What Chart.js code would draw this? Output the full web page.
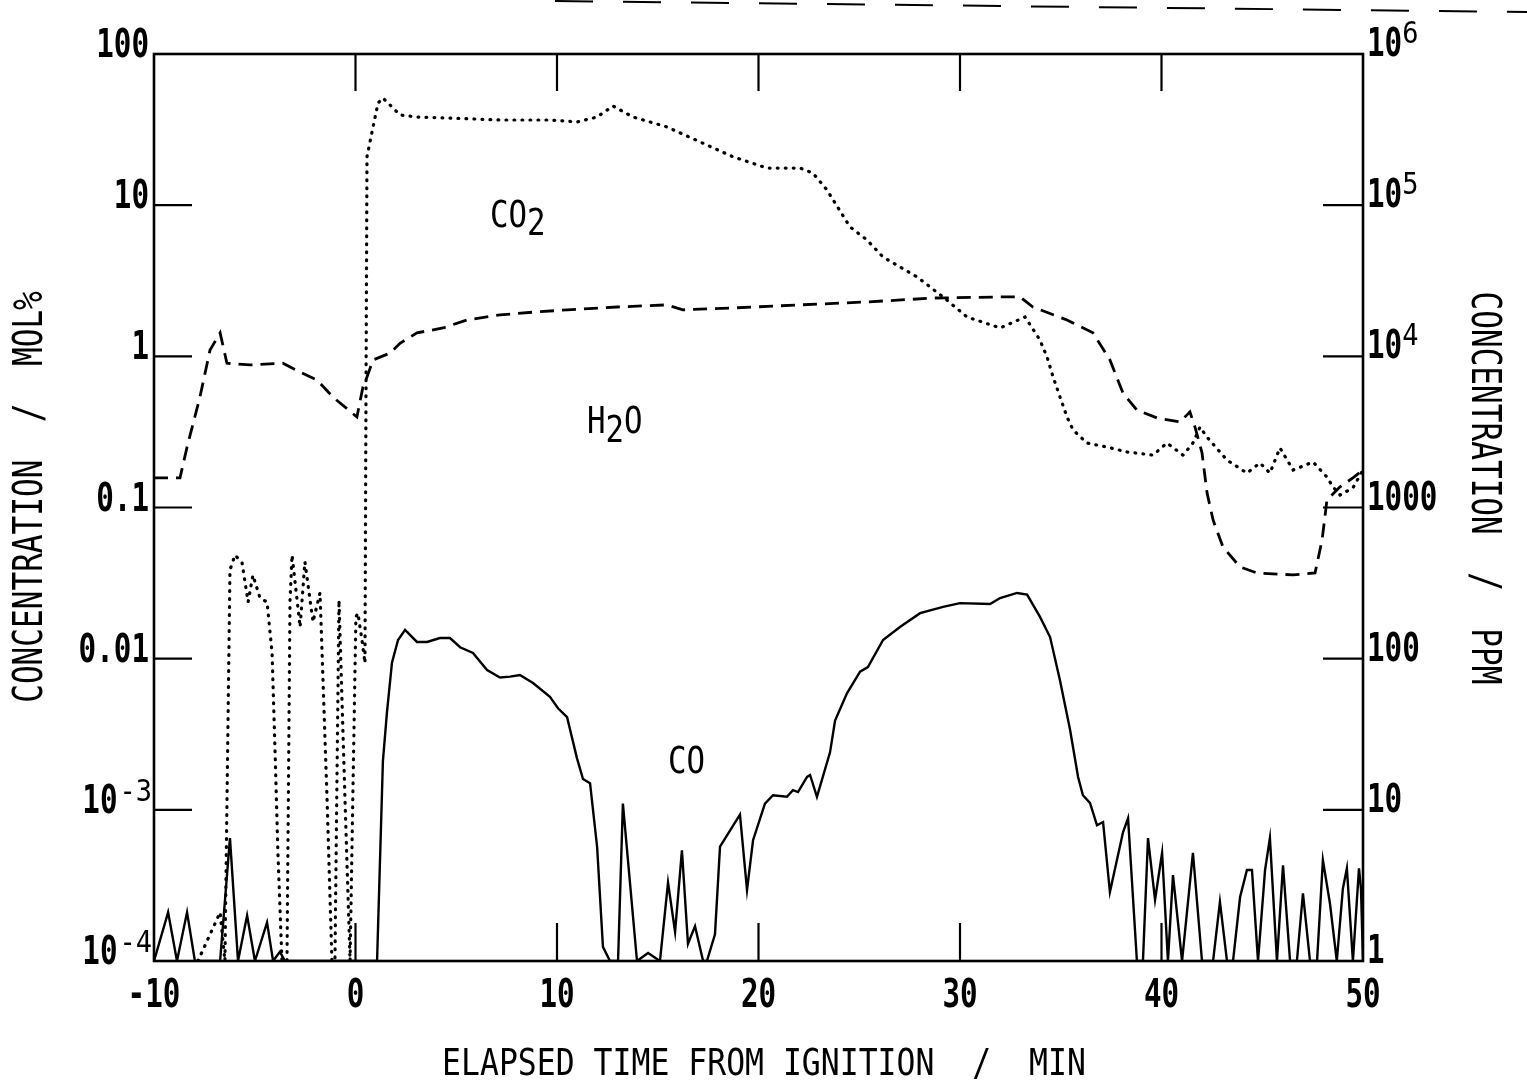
<!DOCTYPE html>
<html>
<head>
<meta charset="utf-8">
<title>Concentration vs elapsed time from ignition</title>
<script src="https://cdn.jsdelivr.net/npm/chart.js@4.4.1/dist/chart.umd.min.js"></script>
<style>
  html, body { margin: 0; padding: 0; background: #fff; }
  canvas { display: block; }
</style>
</head>
<body>
<canvas id="chart" width="1527" height="1090"></canvas>
<script>
// axis ticks
const timeTicks = [-10, 0, 10, 20, 30, 40, 50];
const timeLabels = ['-10', '0', '10', '20', '30', '40', '50'];
const molTicks = [1e-4, 1e-3, 0.01, 0.1, 1, 10, 100];
const molLabels = ['10', '10', '0.01', '0.1', '1', '10', '100'];
const molExps = ['-4', '-3', '', '', '', '', ''];
const ppmTicks = [1, 10, 100, 1000, 1e4, 1e5, 1e6];
const ppmLabels = ['1', '10', '100', '1000', '10', '10', '10'];
const ppmExps = ['', '', '', '', '4', '5', '6'];

// CO2 (dotted), mol%
const co2Time = [-7.82, -6.72, -6.48, -6.23, -5.98, -5.63, -5.33, -5.09, -4.74, -4.39,
  -4.14, -3.99, -3.85, -3.65, -3.4, -3.25, -3.15, -2.75, -2.51, -2.11,
  -1.76, -1.41, -1.17, -1.02, -0.82, -0.52, -0.27, 0.02, 0.12, 0.32,
  0.47, 0.52, 0.57, 0.87, 1.12, 1.36, 2.21, 3.05, 4.69, 7.17,
  9.65, 10.99, 11.99, 12.78, 13.77, 15.46, 17.1, 18.73, 20.42, 22.06,
  22.7, 23.4, 24.54, 25.38, 26.18, 27.87, 29.16, 30.35, 31.99, 33.23,
  33.97, 34.32, 34.62, 34.96, 35.31, 35.61, 36.3, 37.3, 38.29, 39.58,
  40.27, 41.07, 41.56, 41.91, 42.26, 43.25, 44.24, 44.89, 45.38, 45.88,
  46.53, 47.52, 48.21, 48.51, 48.86, 49.5, 50.0];
const co2Values = [1e-4, 2.1e-4, 1e-4, 0.0386, 0.0485, 0.043, 0.0237, 0.0357, 0.0252, 0.0237,
  0.0109, 0.00238, 5.2e-4, 1e-4, 1e-4, 0.0244, 0.0485, 0.0162, 0.0437, 0.0175,
  0.0272, 1.16e-3, 1e-4, 1e-4, 0.0244, 1.16e-3, 1e-4, 0.0189, 0.02, 0.0133,
  0.00935, 0.54, 20.9, 32.9, 47.4, 51.2, 39.5, 38.3, 37.7, 36.6,
  36.6, 35.5, 38.3, 45.3, 38.3, 32.9, 26.2, 20.9, 17.6, 17.6,
  16.3, 12.6, 7.18, 5.89, 4.54, 3.35, 2.47, 1.82, 1.54, 1.82,
  1.28, 0.99, 0.73, 0.54, 0.397, 0.326, 0.267, 0.251, 0.233, 0.222,
  0.267, 0.222, 0.267, 0.341, 0.292, 0.206, 0.169, 0.197, 0.169, 0.248,
  0.177, 0.2, 0.159, 0.137, 0.121, 0.135, 0.177];

// H2O (dashed), mol%
const h2oTime = [-10, -8.71, -8.36, -7.72, -7.22, -6.72, -6.38, -5.24, -3.6, -2.75,
  -1.91, -1.12, 0.07, 0.37, 0.57, 0.87, 1.71, 2.21, 3.05, 4.34,
  5.53, 7.17, 8.81, 10.5, 12.98, 15.46, 16.25, 18.73, 22.06, 25.38,
  28.66, 31.99, 32.98, 33.62, 35.31, 36.6, 37.44, 38.09, 38.78, 39.78,
  40.92, 41.41, 41.66, 42.01, 42.26, 42.56, 43.05, 43.9, 44.74, 46.53,
  47.62, 47.97, 48.21, 48.86, 49.5, 50.0];
const h2oValues = [0.157, 0.157, 0.251, 0.538, 1.1, 1.43, 0.9, 0.877, 0.9, 0.787,
  0.697, 0.538, 0.397, 0.627, 0.73, 0.946, 1.05, 1.22, 1.43, 1.54,
  1.74, 1.88, 1.96, 2.03, 2.12, 2.19, 2.03, 2.09, 2.19, 2.29,
  2.43, 2.47, 2.47, 2.12, 1.74, 1.43, 0.946, 0.571, 0.441, 0.391,
  0.368, 0.429, 0.341, 0.23, 0.125, 0.0827, 0.0548, 0.0404, 0.0369, 0.0358,
  0.0369, 0.061, 0.112, 0.137, 0.157, 0.177];

// CO (solid), mol%
const coTime = [-10, -9.3, -8.86, -8.36, -7.97, -6.72, -6.23, -5.83, -5.38, -4.99,
  -4.39, -4.09, -3.75, -3.5, 1.07, 1.36, 1.56, 1.81, 2.11, 2.46,
  3.05, 3.55, 4.19, 4.69, 5.19, 5.83, 6.53, 7.17, 7.67, 8.16,
  8.81, 9.65, 10.05, 10.5, 10.99, 11.29, 11.64, 11.99, 12.28, 12.63,
  13.03, 13.27, 13.97, 14.52, 15.11, 15.51, 15.86, 16.2, 16.5, 16.85,
  17.25, 17.44, 17.84, 18.09, 19.08, 19.43, 19.73, 20.32, 20.72, 21.41,
  21.71, 21.96, 22.41, 22.56, 22.9, 23.55, 23.8, 24.39, 25.04, 25.43,
  26.18, 27.02, 28.02, 29.16, 30.0, 31.49, 31.99, 32.83, 33.33, 33.97,
  34.47, 34.96, 35.46, 35.86, 36.1, 36.45, 36.8, 37.1, 37.44, 38.09,
  38.34, 38.78, 39.08, 39.33, 39.68, 40.03, 40.32, 40.57, 41.02, 41.56,
  42.01, 42.56, 42.9, 43.25, 43.55, 43.9, 44.24, 44.49, 44.79, 45.14,
  45.38, 45.73, 46.03, 46.38, 46.72, 47.02, 47.37, 47.72, 48.01, 48.36,
  48.7, 49.0, 49.2, 49.5, 49.8, 49.9, 50.0];
const coValues = [1e-4, 2.1e-4, 1e-4, 2.1e-4, 1e-4, 1e-4, 6.5e-4, 1e-4, 2.0e-4, 1e-4,
  1.8e-4, 1e-4, 1.15e-4, 1e-4, 1e-4, 2.1e-3, 4.4e-3, 9.4e-3, 0.0133, 0.0155,
  0.0129, 0.0129, 0.0137, 0.0137, 0.0119, 0.0109, 0.0084, 0.0075, 0.0076, 0.0078,
  0.0069, 0.0056, 0.0047, 0.0041, 0.0022, 0.0016, 0.0015, 5.7e-4, 1.24e-4, 1e-4,
  1e-4, 1.1e-3, 1e-4, 1.13e-4, 1e-4, 3.3e-4, 1.56e-4, 5.4e-4, 1.3e-4, 1.7e-4,
  1e-4, 1e-4, 1.5e-4, 5.7e-4, 9.3e-4, 2.95e-4, 6.3e-4, 1.1e-3, 1.25e-3, 1.22e-3,
  1.35e-3, 1.31e-3, 1.65e-3, 1.7e-3, 1.22e-3, 2.4e-3, 3.9e-3, 5.9e-3, 8.2e-3, 8.8e-3,
  0.0133, 0.0162, 0.02, 0.022, 0.0233, 0.023, 0.0252, 0.0272, 0.0265, 0.0189,
  0.0139, 0.0072, 0.0034, 0.00165, 0.00125, 0.00111, 7.9e-4, 8.3e-4, 2.86e-4, 7.1e-4,
  8.8e-4, 1e-4, 1e-4, 6.5e-4, 2.54e-4, 5.2e-4, 1e-4, 3.7e-4, 1e-4, 5.2e-4,
  1e-4, 1e-4, 2.46e-4, 1e-4, 1e-4, 2.65e-4, 4.0e-4, 4.0e-4, 1e-4, 4.0e-4,
  6.5e-4, 1e-4, 4.3e-4, 1e-4, 1e-4, 2.8e-4, 1e-4, 1e-4, 4.65e-4, 2.4e-4,
  1e-4, 3.0e-4, 4.1e-4, 1e-4, 4.1e-4, 3.0e-4, 1e-4];

function series(times, values) {
  return times.map((t, i) => ({ x: t, y: values[i] }));
}

const FONT = '"DejaVu Sans Mono", "Liberation Mono", monospace';

// draw text squeezed sideways, like the plotter lettering
function drawText(ctx, s, x, y, size, sx, align, weight) {
  ctx.font = (weight || 'normal') + ' ' + size + 'px ' + FONT;
  const w = ctx.measureText(s).width * sx;
  const left = align === 'right' ? x - w : align === 'center' ? x - w / 2 : x;
  ctx.save();
  ctx.translate(left, y);
  ctx.scale(sx, 1);
  ctx.textAlign = 'left';
  ctx.textBaseline = 'alphabetic';
  ctx.fillText(s, 0, 0);
  ctx.restore();
  return w;
}

function drawTitle(ctx, s, cx, cy, angle, size, sx) {
  ctx.save();
  ctx.translate(cx, cy);
  ctx.rotate(angle);
  drawText(ctx, s, 0, 0, size, sx, 'center');
  ctx.restore();
}

// curve names, anchored in data coordinates
const curveNames = [
  { parts: [['CO', 0], ['2', 8]], t: 6.67, v: 7.2 },
  { parts: [['H', 0], ['2', 9], ['O', 0]], t: 11.49, v: 0.31 },
  { parts: [['CO', 0]], t: 15.51, v: 1.75e-3 }
];

const framePlugin = {
  id: 'frame',
  afterDraw(chart) {
    const { ctx, chartArea: a, scales } = chart;
    const xs = scales.x, ys = scales.y, yr = scales.yPpm;
    ctx.save();
    ctx.strokeStyle = '#000';
    ctx.fillStyle = '#000';

    // box
    ctx.lineWidth = 2.6;
    ctx.strokeRect(a.left, a.top, a.right - a.left, a.bottom - a.top);

    // inward ticks
    ctx.lineWidth = 2.2;
    ctx.beginPath();
    timeTicks.slice(1, -1).forEach(t => {
      const px = xs.getPixelForValue(t);
      ctx.moveTo(px, a.top); ctx.lineTo(px, a.top + 37);
      ctx.moveTo(px, a.bottom); ctx.lineTo(px, a.bottom - 38);
    });
    molTicks.slice(1, -1).forEach(v => {
      const py = ys.getPixelForValue(v);
      ctx.moveTo(a.left, py); ctx.lineTo(a.left + 38, py);
    });
    ppmTicks.slice(1, -1).forEach(v => {
      const py = yr.getPixelForValue(v);
      ctx.moveTo(a.right, py); ctx.lineTo(a.right - 40, py);
    });
    ctx.stroke();

    // bottom tick labels
    timeTicks.forEach((t, i) => {
      drawText(ctx, timeLabels[i], xs.getPixelForValue(t), a.bottom + 46, 39, 0.75, 'center', 'bold');
    });

    // left tick labels (mol%)
    molTicks.forEach((v, i) => {
      const py = ys.getPixelForValue(v);
      if (molExps[i]) {
        const ew = drawText(ctx, molExps[i], a.left - 2, py - 9, 30, 0.9, 'right');
        drawText(ctx, molLabels[i], a.left - 4 - ew, py + 3, 39, 0.75, 'right', 'bold');
      } else {
        drawText(ctx, molLabels[i], a.left - 5, py + 3, 39, 0.75, 'right', 'bold');
      }
    });

    // right tick labels (ppm)
    ppmTicks.forEach((v, i) => {
      const py = yr.getPixelForValue(v);
      const w = drawText(ctx, ppmLabels[i], a.right + 4, py + 2, 39, 0.75, 'left', 'bold');
      if (ppmExps[i]) drawText(ctx, ppmExps[i], a.right + 4 + w, py - 11, 30, 0.9, 'left');
    });

    // axis titles
    drawTitle(ctx, 'CONCENTRATION  /  MOL%', 42, 497, -Math.PI / 2, 40, 0.777);
    drawTitle(ctx, 'CONCENTRATION  /  PPM', 1472, 488, Math.PI / 2, 40, 0.777);
    drawText(ctx, 'ELAPSED TIME FROM IGNITION  /  MIN', 764, 1075, 37, 0.85, 'center');

    // curve names
    curveNames.forEach(n => {
      let px = xs.getPixelForValue(n.t);
      const py = ys.getPixelForValue(n.v);
      n.parts.forEach(([s, dy]) => {
        px += drawText(ctx, s, px, py + dy, 38, 0.81, 'left');
      });
    });

    // torn-off dashed edge along the top of the scan
    ctx.lineWidth = 2;
    ctx.setLineDash([38, 30]);
    ctx.beginPath();
    ctx.moveTo(555, 1);
    ctx.lineTo(1527, 12);
    ctx.stroke();
    ctx.restore();
  }
};

const ctx = document.getElementById('chart').getContext('2d');
const chart = new Chart(ctx, {
  type: 'line',
  data: {
    datasets: [
      {
        label: 'CO2',
        data: series(co2Time, co2Values),
        borderColor: '#000',
        borderWidth: 3.2,
        borderDash: [0.8, 7.2],
        borderCapStyle: 'round'
      },
      {
        label: 'H2O',
        data: series(h2oTime, h2oValues),
        borderColor: '#000',
        borderWidth: 2.8,
        borderDash: [14, 8]
      },
      {
        label: 'CO',
        data: series(coTime, coValues),
        borderColor: '#000',
        borderWidth: 2.4
      }
    ]
  },
  options: {
    responsive: false,
    animation: false,
    layout: { padding: { left: 154, right: 164, top: 54, bottom: 129 } },
    elements: { point: { radius: 0 }, line: { tension: 0 } },
    plugins: { legend: { display: false }, tooltip: { enabled: false } },
    scales: {
      x: { type: 'linear', min: -10, max: 50, display: false },
      y: { type: 'logarithmic', min: 1e-4, max: 100, display: false },
      yPpm: { type: 'logarithmic', position: 'right', min: 1, max: 1e6, display: false }
    }
  },
  plugins: [framePlugin]
});
</script>
</body>
</html>
